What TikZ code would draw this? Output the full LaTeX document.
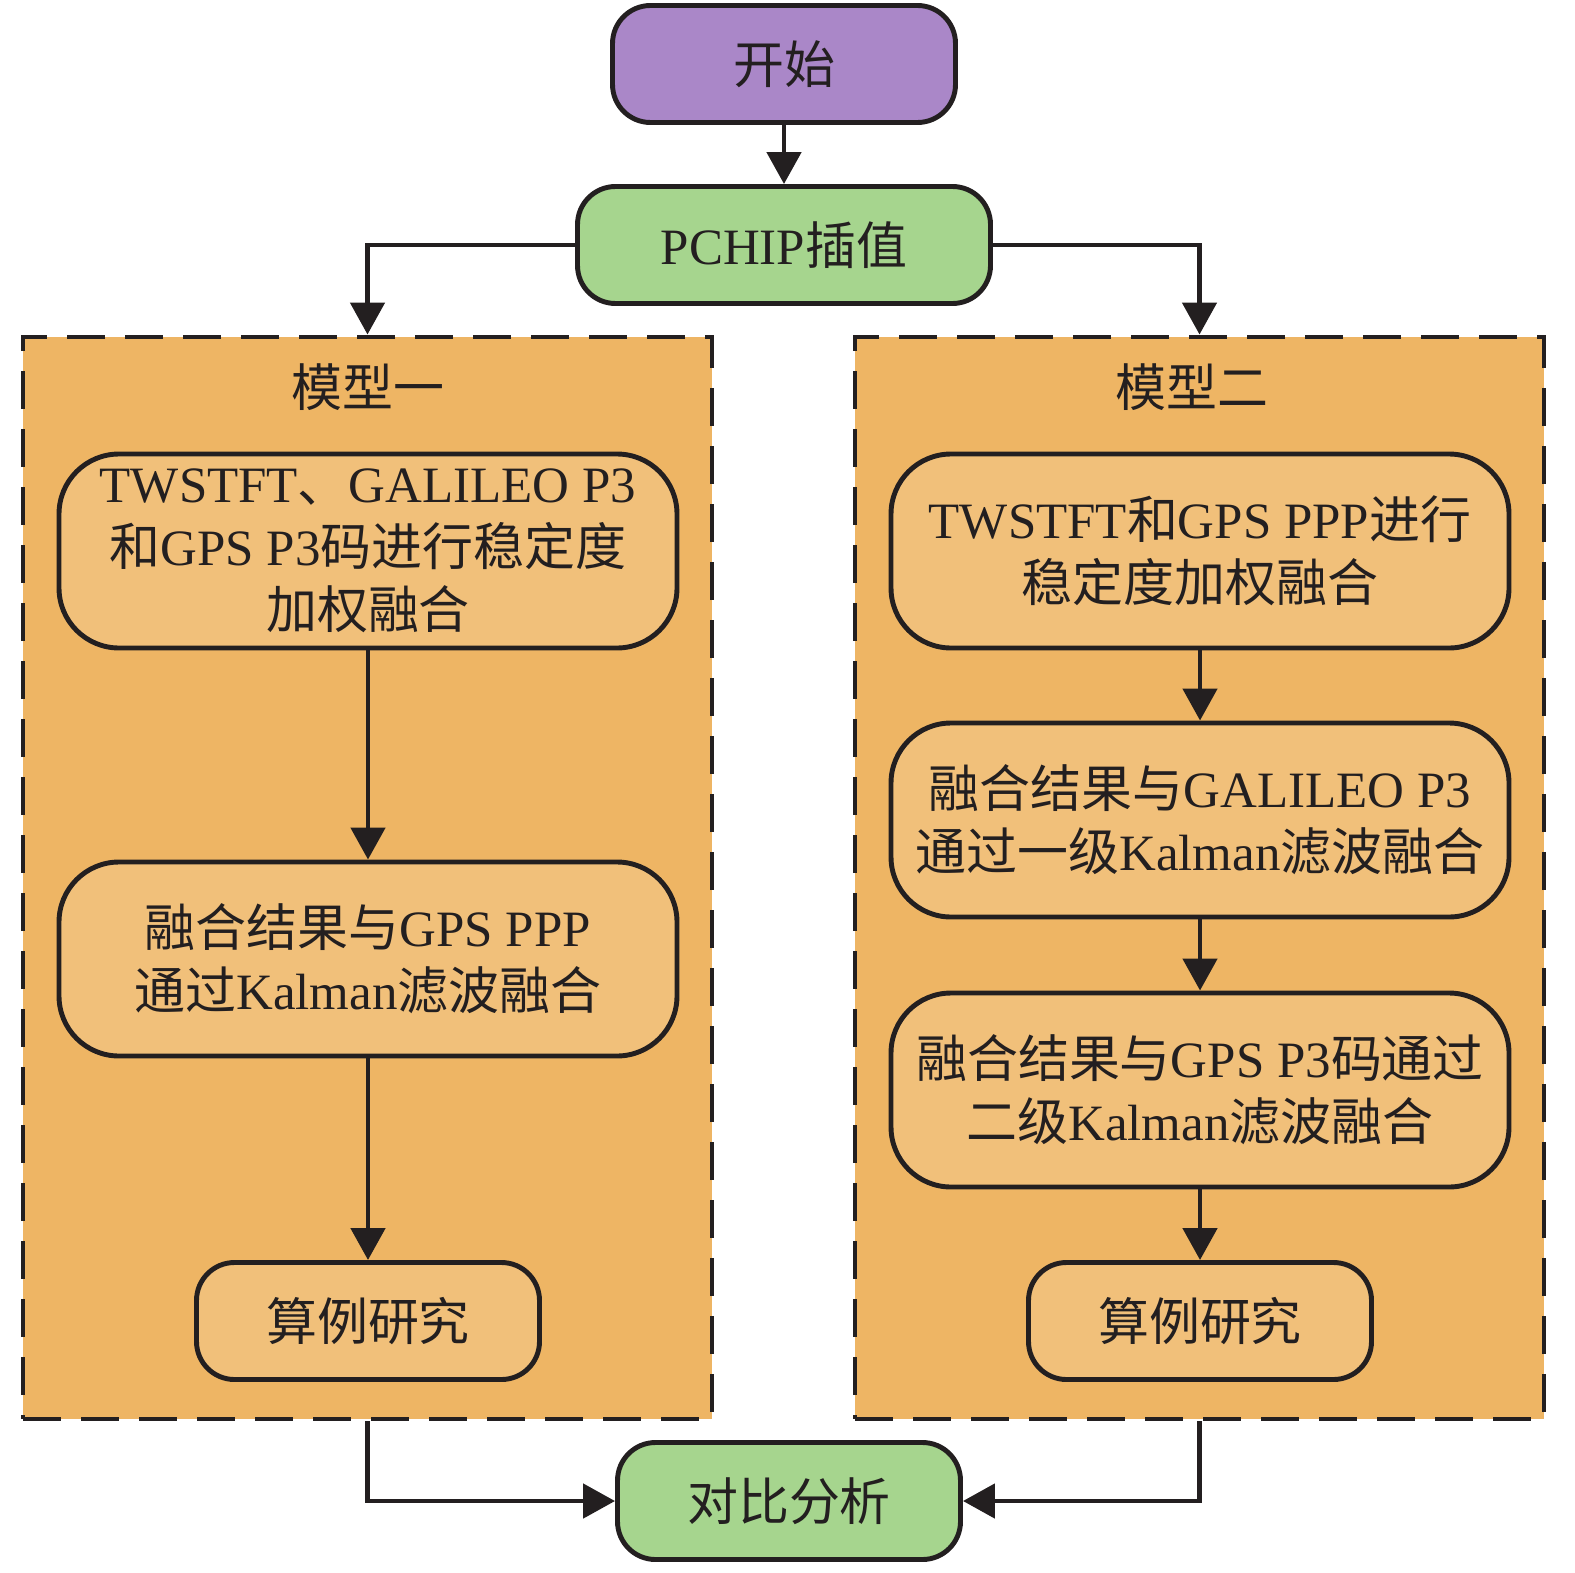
\documentclass[tikz,border=0pt]{standalone}
\usepackage{fontspec}
\setmainfont{Liberation Serif}
\newfontfamily\zh{Noto Sans CJK SC}
\usetikzlibrary{arrows.meta, positioning}
\definecolor{startpurple}{RGB}{170,135,200}
\definecolor{endgreen}{RGB}{166,213,142}
\definecolor{panelorange}{RGB}{238,181,100}
\definecolor{boxorange}{RGB}{241,192,122}
\definecolor{inkblack}{RGB}{35,31,32}

\begin{document}
\begin{tikzpicture}[x=0.1mm, y=-0.1mm, line width=1.4pt, draw=inkblack, text=inkblack,
    font=\fontsize{14.5}{17.9}\selectfont,
    term/.style={draw, rounded corners=0.38cm, minimum width=3.43cm, minimum height=1.17cm, inner sep=0pt},
    panel/.style={draw, dash pattern=on 0.38cm off 0.2cm, fill=panelorange, minimum width=6.89cm, minimum height=10.82cm, inner sep=0pt},
    proc/.style={draw, fill=boxorange, rounded corners=0.6cm, minimum width=6.18cm, minimum height=1.94cm, align=center, inner sep=0pt},
    arr/.style={draw=inkblack, -{Triangle[length=0.32cm, width=0.34cm]}}]
    \useasboundingbox (0,0) rectangle (1575,1572);
    % top of the flow
    \node[term, fill=startpurple] (start) at (784,64) {\zh 开始};
    \node[term, fill=endgreen, minimum width=4.13cm] (pchip) at (784,245) {PCHIP{\zh 插值}};
    % the two models
    \node[panel] (m1) at (367.5,878) {};
    \node[panel] (m2) at (1199.5,878) {};
    \node (t1) at (368,387) {\zh 模型一};
    \node (t2) at (1192,387) {\zh 模型二};
    \node[proc] (a1) at (368,551) {TWSTFT{\zh 、}GALILEO P3\\{\zh 和}GPS P3{\zh 码进行稳定度}\\{\zh 加权融合}};
    \node[proc] (a2) at (368,959) {{\zh 融合结果与}GPS PPP\\{\zh 通过}Kalman{\zh 滤波融合}};
    \node[term, fill=boxorange] (a3) at (368,1321) {\zh 算例研究};
    \node[proc] (b1) at (1200,551) {TWSTFT{\zh 和}GPS PPP{\zh 进行}\\{\zh 稳定度加权融合}};
    \node[proc] (b2) at (1200,820) {{\zh 融合结果与}GALILEO P3\\{\zh 通过一级}Kalman{\zh 滤波融合}};
    \node[proc] (b3) at (1200,1090) {{\zh 融合结果与}GPS P3{\zh 码通过}\\{\zh 二级}Kalman{\zh 滤波融合}};
    \node[term, fill=boxorange] (b4) at (1200,1321) {\zh 算例研究};
    % comparison
    \node[term, fill=endgreen] (cmp) at (789,1501) {\zh 对比分析};
    \draw[arr] (start) -- (pchip);
    \draw[arr] (pchip.west) -| (m1.north);
    \draw[arr] (pchip.east) -| (m2.north);
    \draw[arr] (a1) -- (a2);
    \draw[arr] (a2) -- (a3);
    \draw[arr] (b1) -- (b2);
    \draw[arr] (b2) -- (b3);
    \draw[arr] (b3) -- (b4);
    \draw[arr] (m1.south) |- (cmp.west);
    \draw[arr] (m2.south) |- (cmp.east);
\end{tikzpicture}
\end{document}
